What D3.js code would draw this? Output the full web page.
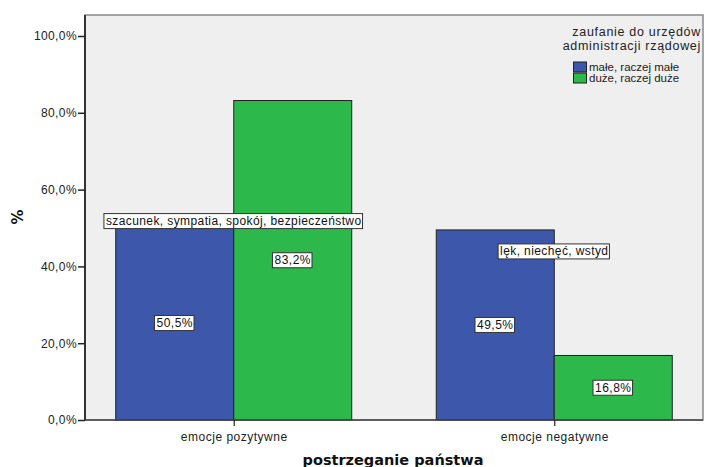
<!DOCTYPE html>
<html>
<head>
<meta charset="utf-8">
<script src="https://cdn.jsdelivr.net/npm/d3@7"></script>
<style>
  body { margin: 0; background: #fff; }
  svg text { font-family: "Liberation Sans", Arial, sans-serif; }
</style>
</head>
<body>
<svg id="chart" width="706" height="467"></svg>
<script>
// Categories on the x axis and their boxed captions
const categories = ["emocje pozytywne", "emocje negatywne"];
const categoryCaptions = ["szacunek, sympatia, spokój, bezpieczeństwo", "lęk, niechęć, wstyd"];
// Series (legend groups) and their percentages per category
const seriesNames = ["małe, raczej małe", "duże, raczej duże"];
const seriesColors = ["#3d57aa", "#2db84b"];
const seriesValues = [
  [50.5, 49.5], // małe, raczej małe
  [83.2, 16.8]  // duże, raczej duże
];
const yTicks = [0, 20, 40, 60, 80, 100];
const legendTitle = ["zaufanie do urzędów", "administracji rządowej"];
const xTitle = "postrzeganie państwa";
const yTitle = "%";

const svg = d3.select("#chart");
const plot = { left: 85, right: 703, top: 15, bottom: 420 };

const fmt = v => d3.format(".1f")(v).replace(".", ",") + "%";

const x = d3.scalePoint().domain(categories).range([plot.left, plot.right]).padding(0.464);
const barW = 118;
const xs = d3.scaleBand().domain(seriesNames).range([-barW, barW]);
const y = d3.scaleLinear().domain([0, 100]).range([plot.bottom, 36]);

// plot background and frame
svg.append("rect")
  .attr("x", plot.left).attr("y", plot.top)
  .attr("width", plot.right - plot.left).attr("height", plot.bottom - plot.top)
  .attr("fill", "#efefef").attr("stroke", "#8a8a8a").attr("stroke-width", 1.5);

// bars
const rows = [];
categories.forEach((c, ci) => seriesNames.forEach((s, si) =>
  rows.push({ c, s, si, v: seriesValues[si][ci] })));

svg.append("g").selectAll("rect").data(rows).join("rect")
  .attr("x", d => x(d.c) + xs(d.s))
  .attr("y", d => y(d.v))
  .attr("width", xs.bandwidth())
  .attr("height", d => y(0) - y(d.v))
  .attr("fill", d => seriesColors[d.si])
  .attr("stroke", "#222").attr("stroke-width", 1);

// y axis
const yAxis = svg.append("g")
  .attr("transform", `translate(${plot.left},0)`)
  .call(d3.axisLeft(y).tickValues(yTicks).tickFormat(fmt).tickSize(7).tickPadding(1));
yAxis.select(".domain").attr("d", `M0,${plot.top}V${plot.bottom}`).attr("stroke", "#333").attr("stroke-width", 2);
yAxis.selectAll(".tick line").attr("stroke", "#222").attr("stroke-width", 1.5);
yAxis.selectAll(".tick text").attr("font-size", 12).attr("letter-spacing", 0.4).attr("fill", "#222")
  .style("font-family", "'Liberation Sans', Arial, sans-serif");

// x axis
const xAxis = svg.append("g")
  .attr("transform", `translate(0,${plot.bottom})`)
  .call(d3.axisBottom(x).tickSize(6).tickPadding(6));
xAxis.select(".domain").attr("d", `M${plot.left},0H${plot.right}`).attr("stroke", "#444").attr("stroke-width", 1.5);
xAxis.selectAll(".tick line").attr("stroke", "#222").attr("stroke-width", 1.2);
xAxis.selectAll(".tick text").attr("font-size", 12).attr("letter-spacing", 0.5).attr("fill", "#222")
  .style("font-family", "'Liberation Sans', Arial, sans-serif");

// boxed labels helper
function boxLabel(g, cx, cy, text, size, spacing) {
  const t = g.append("text").attr("x", cx).attr("y", cy)
    .attr("text-anchor", "middle").attr("dominant-baseline", "central")
    .attr("font-size", size).attr("letter-spacing", spacing)
    .attr("fill", "#111").text(text);
  const b = t.node().getBBox();
  g.insert("rect", "text")
    .attr("x", b.x - 2).attr("y", cy - 7.5)
    .attr("width", b.width + 3).attr("height", 15)
    .attr("fill", "#fff").attr("stroke", "#333").attr("stroke-width", 1);
}

// value labels at the middle of each bar
rows.forEach(d => {
  const g = svg.append("g");
  boxLabel(g, x(d.c) + xs(d.s) + xs.bandwidth() / 2, y(d.v / 2), fmt(d.v), 12, 0.5);
});

// category captions
const captionLevels = [51.8, 43.9];
categories.forEach((c, i) => {
  const g = svg.append("g");
  boxLabel(g, x(c), y(captionLevels[i]), categoryCaptions[i], 12, 0.4);
});

// legend
const lg = svg.append("g");
legendTitle.forEach((t, i) => lg.append("text")
  .attr("x", 701).attr("y", 35.5 + i * 14)
  .attr("text-anchor", "end").attr("font-size", 12.5).attr("letter-spacing", 0.7)
  .attr("fill", "#222").text(t));
seriesNames.forEach((s, i) => {
  lg.append("rect").attr("x", 573.5).attr("y", 62 + i * 11)
    .attr("width", 13).attr("height", 10)
    .attr("fill", seriesColors[i]).attr("stroke", "#222").attr("stroke-width", 1);
  lg.append("text").attr("x", 589).attr("y", 67 + i * 11)
    .attr("dominant-baseline", "central").attr("font-size", 11.5).attr("fill", "#222").text(s);
});

// axis titles
svg.append("text").attr("x", 393).attr("y", 465)
  .attr("text-anchor", "middle").attr("font-size", 14.5).attr("font-weight", "bold")
  .attr("fill", "#111").style("font-family", "'DejaVu Sans', sans-serif").text(xTitle);
svg.append("text").attr("transform", "translate(23,217) rotate(-90)")
  .attr("text-anchor", "middle").attr("font-size", 15).attr("font-weight", "bold")
  .attr("fill", "#111").style("font-family", "'DejaVu Sans', sans-serif").text(yTitle);
</script>
</body>
</html>
